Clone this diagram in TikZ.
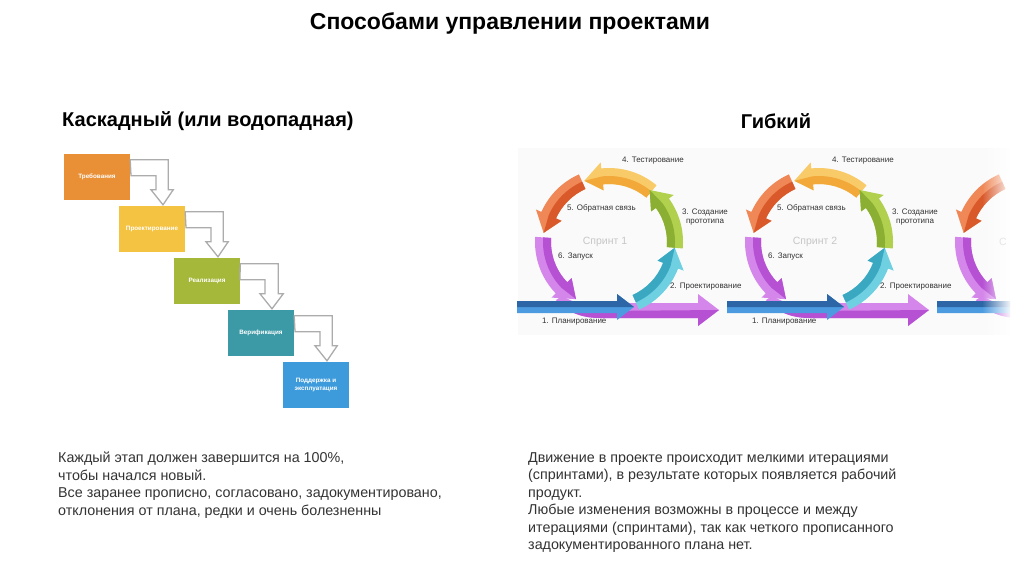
\documentclass[tikz,border=0pt]{standalone}
\usepackage{fontspec}
\setmainfont{Liberation Sans}
\usetikzlibrary{calc,fadings}

\definecolor{boxorange}{HTML}{E98F35}
\definecolor{boxyellow}{HTML}{F5C342}
\definecolor{boxgreen}{HTML}{A5B83A}
\definecolor{boxteal}{HTML}{3C9AA6}
\definecolor{boxblue}{HTML}{3D9BDC}
\definecolor{tealL}{HTML}{6FD0E2}
\definecolor{tealD}{HTML}{3BA8C2}
\definecolor{greenL}{HTML}{B0D04E}
\definecolor{greenD}{HTML}{8BAF33}
\definecolor{yellowL}{HTML}{F9CB68}
\definecolor{yellowD}{HTML}{F2A93A}
\definecolor{redL}{HTML}{EF8756}
\definecolor{redD}{HTML}{D9592A}
\definecolor{purpleL}{HTML}{D486EA}
\definecolor{purpleD}{HTML}{B651D4}
\definecolor{blueL}{HTML}{4C9BE0}
\definecolor{blueD}{HTML}{2D66A6}

\tikzfading[name=fadeout, left color=transparent!100, right color=transparent!0]

\tikzset{
	stagebox/.style={rectangle, minimum width=66, minimum height=46, text=white, font=\fontsize{6.3}{7.5}\selectfont\bfseries, align=center},
	flowarrow/.style={draw=gray!65, fill=white, line width=1.3pt},
	sprintlabel/.style={font=\fontsize{8}{9}\selectfont, text=black!80, anchor=west, inner sep=0},
	bodytext/.style={font=\fontsize{14.3}{17.5}\selectfont, text=black!80, align=left, anchor=north west, inner sep=0},
	heading/.style={font=\fontsize{20}{23}\selectfont\bfseries, inner sep=0}
}

% hollow bent arrow from one stage to the next
\newcommand{\stepflow}[2]{%
	\draw[flowarrow] ([yshift=-6pt]#1.north east) -- ++(38,0) -- ++(0,-30) -- ++(5,0) -- ([xshift=11pt,yshift=1pt]#2.north) -- ++(-12,15) -- ++(5,0) -- ++(0,14) -- ++(-25,0) -- cycle;}

% curved sprint arrow: centre, from angle, to angle, light, dark
\newcommand{\ringarrow}[5]{%
	\pgfmathsetmacro{\headang}{#3-16}
	\fill[#4] ($(#1)+(#2:74)$) arc[start angle=#2, end angle=\headang, radius=74pt] -- ($(#1)+(\headang:80)$) -- ($(#1)+(#3:66)$) -- ($(#1)+(\headang:52)$) -- ($(#1)+(\headang:58)$) arc[start angle=\headang, end angle=#2, radius=58pt] -- cycle;
	\fill[#5] ($(#1)+(#2:66)$) arc[start angle=#2, end angle=\headang, radius=66pt] -- ($(#1)+(#3:66)$) -- ($(#1)+(\headang:52)$) -- ($(#1)+(\headang:58)$) arc[start angle=\headang, end angle=#2, radius=58pt] -- cycle;}

% straight arrows under a sprint
\newcommand{\sprintbase}{%
	\fill[purpleL] (562,-296) .. controls (575,-303) .. (600,-303) -- (698,-303) -- (698,-294) -- (719,-310) -- (698,-326) -- (698,-318) -- (600,-318) .. controls (578,-318) and (566,-310) .. (556,-300) -- cycle;
	\fill[purpleD] (559,-302) .. controls (575,-311) .. (600,-311) -- (719,-310) -- (698,-326) -- (698,-318) -- (600,-318) .. controls (578,-318) and (566,-310) .. (556,-300) -- cycle;
	\fill[blueL] (517,-301) -- (617,-301) -- (617,-294) -- (634,-307) -- (617,-320) -- (617,-313) -- (517,-313) -- cycle;
	\fill[blueD] (517,-301) -- (617,-301) -- (617,-294) -- (634,-307) -- (517,-307) -- cycle;}

\begin{document}
\begin{tikzpicture}[x=1pt,y=1pt]
	\useasboundingbox (0,0) rectangle (1024,-574);
	\fill[white] (0,0) rectangle (1024,-574);

	\node (title) at (510,-23) {\fontsize{23}{27}\selectfont\bfseries Способами управлении проектами};
	\node[heading, anchor=west] (waterfall) at (62,-121) {Каскадный (или водопадная)};
	\node[heading] (agile) at (776,-121) {Гибкий};

	% waterfall stages
	\node[stagebox, fill=boxorange] (req) at (97,-177) {Требования};
	\node[stagebox, fill=boxyellow] (design) at (152,-229) {Проектирование};
	\node[stagebox, fill=boxgreen] (impl) at (207,-281) {Реализация};
	\node[stagebox, fill=boxteal] (verif) at (261,-333) {Верификация};
	\node[stagebox, fill=boxblue] (support) at (316,-385) {Поддержка и\\эксплуатация};
	\stepflow{req}{design}
	\stepflow{design}{impl}
	\stepflow{impl}{verif}
	\stepflow{verif}{support}

	% agile sprints
	\fill[gray!4] (518,-148) rectangle (1010,-335);
	\foreach \n/\dx in {1/0,2/210}{
		\begin{scope}[xshift=\dx]
			\coordinate (c) at (609,-242);
			\sprintbase
			\ringarrow{c}{176}{240}{purpleL}{purpleD}
			\ringarrow{c}{114}{172}{redL}{redD}
			\ringarrow{c}{50}{112}{yellowL}{yellowD}
			\ringarrow{c}{-5}{52}{greenL}{greenD}
			\ringarrow{c}{-66}{-5}{tealL}{tealD}
			\node[font=\fontsize{10.5}{12}\selectfont, text=gray!45] (sprint\n) at ($(c)+(-4,0)$) {Спринт \n};
			\node[sprintlabel] (test\n) at ($(c)+(13,81)$) {4. Тестирование};
			\node[sprintlabel] (feed\n) at ($(c)+(-42,34)$) {5. Обратная связь};
			\node[sprintlabel, align=center] (proto\n) at ($(c)+(73,25)$) {3. Создание\\прототипа};
			\node[sprintlabel] (launch\n) at ($(c)+(-51,-15)$) {6. Запуск};
			\node[sprintlabel] (plan2\n) at ($(c)+(61,-45)$) {2. Проектирование};
			\node[sprintlabel] (plan\n) at ($(c)+(-67,-80)$) {1. Планирование};
		\end{scope}
	}
	\begin{scope}
		\clip (930,-148) rectangle (1010,-335);
		\begin{scope}[xshift=420]
			\coordinate (c) at (609,-242);
			\sprintbase
			\ringarrow{c}{176}{240}{purpleL}{purpleD}
			\ringarrow{c}{114}{172}{redL}{redD}
		\end{scope}
	\end{scope}
	\fill[white, path fading=fadeout] (982,-146) rectangle (1012,-337);
	\node[font=\fontsize{10.5}{12}\selectfont, text=gray!20, anchor=west, inner sep=0] (sprint3) at (999,-242) {С};

	% notes
	\node[bodytext] (waterfalltext) at (58,-452) {Каждый этап должен завершится на 100\%,\\чтобы начался новый.\\Все заранее прописно, согласовано, задокументировано,\\отклонения от плана, редки и очень болезненны};
	\node[bodytext] (agiletext) at (528,-452) {Движение в проекте происходит мелкими итерациями\\(спринтами), в результате которых появляется рабочий\\продукт.\\Любые изменения возможны в процессе и между\\итерациями (спринтами), так как четкого прописанного\\задокументированного плана нет.};
\end{tikzpicture}
\end{document}
